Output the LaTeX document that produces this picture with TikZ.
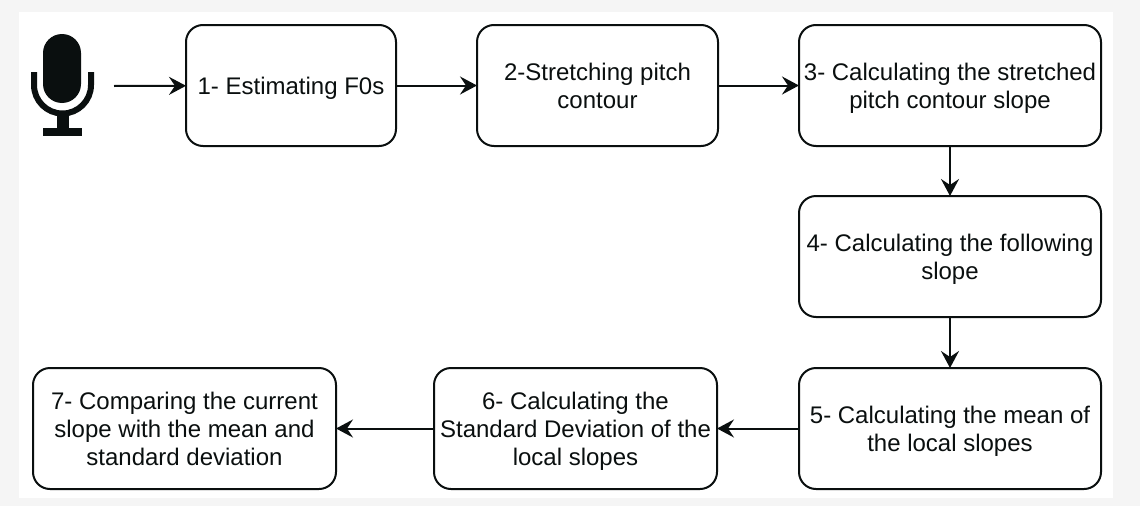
\documentclass[tikz,border=0pt]{standalone}
\usepackage{fontspec}
\setmainfont{Liberation Sans}
\usetikzlibrary{arrows.meta, positioning}
\definecolor{pagegray}{HTML}{F5F5F5}
\definecolor{inkblack}{HTML}{0A0F0F}
\newcommand{\topgap}{\rule{0pt}{24pt}}

\begin{document}
\begin{tikzpicture}[
  x=1pt, y=-1pt,
  font=\fontsize{24}{28}\selectfont,
  stepbox/.style={draw=inkblack, line width=2pt, rounded corners=17pt, outer sep=0pt, text=inkblack, minimum height=121pt, align=center, inner sep=0pt,
    execute at end node=\rule[-6pt]{0pt}{6pt}},
  arr/.style={draw=inkblack, line width=2pt, -{Stealth[length=17pt, width=18pt, inset=6pt]}},
  micpart/.style={inkblack}
]
\useasboundingbox (0,0) rectangle (1140,506);
\fill[pagegray] (0,0) rectangle (1140,506);
\fill[white] (19,12) rectangle (1113,498);

% microphone
\fill[micpart, rounded corners=19pt] (43,34) rectangle (81,103);
\draw[micpart, line width=6pt] (34,72) -- (34,85) arc[start angle=180, end angle=0, radius=28.5] -- (91,72);
\fill[micpart] (57,114) rectangle (69,130);
\fill[micpart] (43,128) rectangle (82,136);
\coordinate (mic) at (114,86);

\node[stepbox, minimum width=210pt] (s1) at (291,85.5) {\topgap 1- Estimating F0s};
\node[stepbox, minimum width=241pt, right=81pt of s1] (s2) {\topgap 2-Stretching pitch\\contour};
\node[stepbox, minimum width=302pt, right=81pt of s2] (s3) {\topgap 3- Calculating the stretched\\pitch contour slope};
\node[stepbox, minimum width=302pt, below=50pt of s3] (s4) {\topgap 4- Calculating the following\\slope};
\node[stepbox, minimum width=302pt, below=51pt of s4] (s5) {\topgap 5- Calculating the mean of\\the local slopes};
\node[stepbox, minimum width=283pt, left=82pt of s5] (s6) {\topgap 6- Calculating the\\Standard Deviation of the\\local slopes};
\node[stepbox, minimum width=303pt, left=98pt of s6] (s7) {\topgap 7- Comparing the current\\slope with the mean and\\standard deviation};

\draw[arr] (mic) -- (s1);
\draw[arr] (s1) -- (s2);
\draw[arr] (s2) -- (s3);
\draw[arr] (s3) -- (s4);
\draw[arr] (s4) -- (s5);
\draw[arr] (s5) -- (s6);
\draw[arr] (s6) -- (s7);
\end{tikzpicture}
\end{document}
